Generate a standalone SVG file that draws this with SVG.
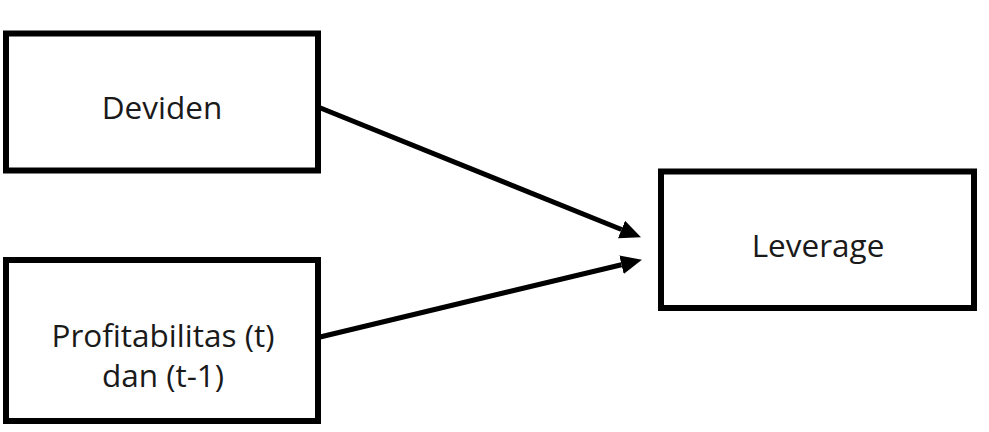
<svg xmlns="http://www.w3.org/2000/svg" width="989" height="432" viewBox="0 0 989 432">
<style>
.box{fill:#fff;stroke:#000;stroke-width:6}
.lbl{font-family:"Open Sans","Noto Sans",sans-serif;font-size:31.5px;fill:#1a1a1a;text-anchor:middle}
.edge{stroke:#000;stroke-width:5;fill:none}
</style>
<defs>
<marker id="ah" markerUnits="userSpaceOnUse" markerWidth="21" markerHeight="19" viewBox="0 0 21 19" refX="0" refY="9.5" orient="auto">
<path d="M0,0 L21,9.5 L0,19 z" fill="#000"/>
</marker>
</defs>
<rect width="989" height="432" fill="#fff"/>
<g id="connectors">
<line class="edge" x1="318" y1="107" x2="621.5" y2="229.5" marker-end="url(#ah)"/>
<line class="edge" x1="318" y1="337.5" x2="621.5" y2="264.7" marker-end="url(#ah)"/>
</g>
<g id="deviden">
<rect class="box" x="6" y="33.5" width="312" height="137"/>
<text class="lbl" x="162" y="119">Deviden</text>
</g>
<g id="profitabilitas">
<rect class="box" x="6" y="260" width="312" height="161"/>
<text class="lbl" x="163" y="346.5">Profitabilitas (t)</text>
<text class="lbl" x="163" y="386.5">dan (t-1)</text>
</g>
<g id="leverage">
<rect class="box" x="661" y="171.5" width="313" height="136.5"/>
<text class="lbl" x="818" y="257">Leverage</text>
</g>
</svg>
